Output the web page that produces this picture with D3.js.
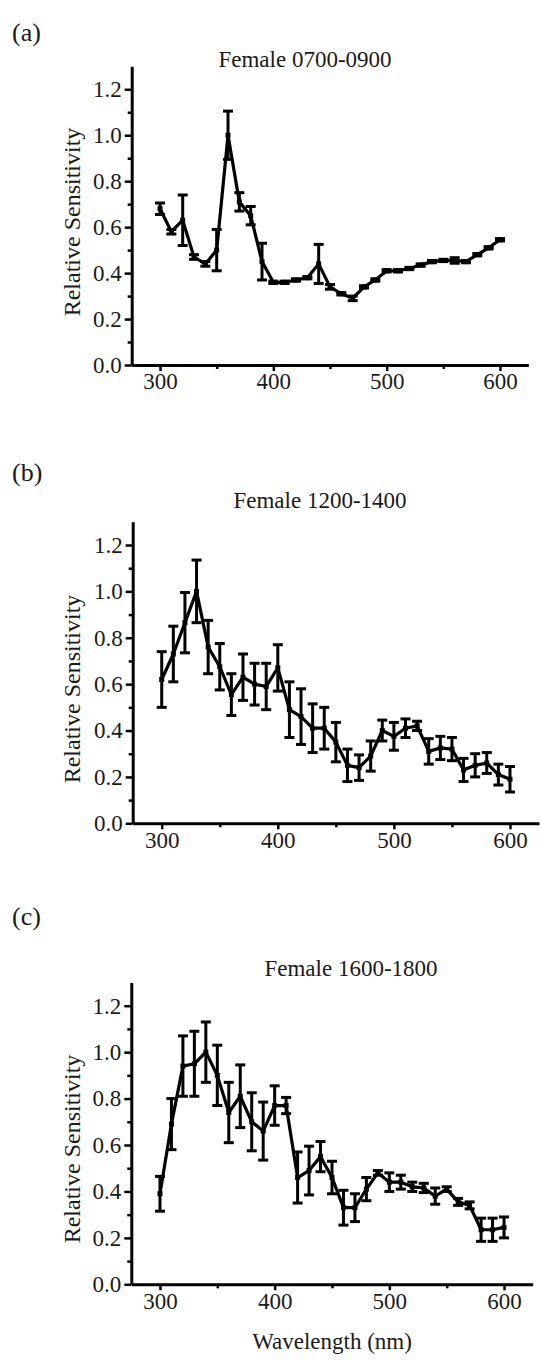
<!DOCTYPE html>
<html>
<head>
<meta charset="utf-8">
<script src="https://cdn.jsdelivr.net/npm/d3@7/dist/d3.min.js"></script>
<style>
    body { margin: 0; background: #fff; }
    svg text { font-family: "Liberation Serif", "Times New Roman", serif; fill: #1a1a1a; }
    .axis path, .axis line { stroke: #000; }
</style>
</head>
<body>
<svg id="chart" width="541" height="1363"></svg>
<script>
"use strict";

var wavelengths = [300, 310, 320, 330, 340, 350, 360, 370, 380, 390,
		   400, 410, 420, 430, 440, 450, 460, 470, 480, 490,
		   500, 510, 520, 530, 540, 550, 560, 570, 580, 590, 600],

    // (a) Female 0700-0900
    morningValues = [0.68, 0.58, 0.63, 0.47, 0.44, 0.50, 1.00, 0.71, 0.65, 0.45,
		     0.36, 0.36, 0.37, 0.38, 0.44, 0.34, 0.31, 0.29, 0.34, 0.37,
		     0.41, 0.41, 0.42, 0.435, 0.45, 0.455, 0.455, 0.45, 0.48, 0.51, 0.545],
    morningErrors = [0.025, 0.01, 0.11, 0.01, 0.01, 0.09, 0.105, 0.04, 0.04, 0.08,
		     0.005, 0.005, 0.005, 0.005, 0.085, 0.01, 0.005, 0.01, 0.005, 0.005,
		     0.005, 0.005, 0.005, 0.005, 0.005, 0.005, 0.012, 0.005, 0.005, 0.005, 0.005],

    // (b) Female 1200-1400
    noonValues = [0.62, 0.73, 0.865, 1.00, 0.76, 0.675, 0.555, 0.63, 0.60, 0.59,
		  0.67, 0.49, 0.46, 0.41, 0.41, 0.35, 0.25, 0.24, 0.29, 0.40,
		  0.375, 0.41, 0.42, 0.31, 0.325, 0.32, 0.23, 0.25, 0.26, 0.21, 0.19],
    noonErrors = [0.12, 0.12, 0.13, 0.135, 0.115, 0.10, 0.09, 0.10, 0.09, 0.10,
		  0.10, 0.12, 0.12, 0.105, 0.09, 0.085, 0.07, 0.055, 0.065, 0.045,
		  0.06, 0.04, 0.02, 0.055, 0.05, 0.05, 0.05, 0.05, 0.045, 0.045, 0.055],

    // (c) Female 1600-1800
    eveningValues = [0.39, 0.69, 0.94, 0.95, 1.00, 0.90, 0.74, 0.81, 0.70, 0.66,
		     0.77, 0.77, 0.46, 0.49, 0.55, 0.46, 0.33, 0.33, 0.41, 0.48,
		     0.44, 0.44, 0.42, 0.415, 0.38, 0.41, 0.355, 0.34, 0.235, 0.235, 0.245],
    eveningErrors = [0.075, 0.11, 0.13, 0.14, 0.13, 0.13, 0.13, 0.135, 0.125, 0.125,
		     0.085, 0.035, 0.11, 0.105, 0.065, 0.07, 0.075, 0.06, 0.05, 0.01,
		     0.04, 0.03, 0.02, 0.02, 0.035, 0.01, 0.015, 0.015, 0.05, 0.05, 0.045],

    xMajorTicks = [300, 400, 500, 600],
    xMinorTicks = [350, 450, 550],
    yMajorTicks = [0.0, 0.2, 0.4, 0.6, 0.8, 1.0, 1.2],
    yMinorTicks = [0.1, 0.3, 0.5, 0.7, 0.9, 1.1],

    xDomain = [275, 625],
    yDomain = [0, 1.3],

    capHalfWidth = 5,
    markerSize = 5,
    fontSize = 23;

/*
 */
var panels = [
    {
	letter: "(a)", title: "Female 0700-0900",
	values: morningValues, errors: morningErrors,
	left: 131.7, right: 528.3, top: 66.3, bottom: 365,
	letterY: 41, titleX: 305, titleY: 67, yLabelCentre: 222
    },
    {
	letter: "(b)", title: "Female 1200-1400",
	values: noonValues, errors: noonErrors,
	left: 132.7, right: 539, top: 521.8, bottom: 823.3,
	letterY: 481, titleX: 320, titleY: 508, yLabelCentre: 689
    },
    {
	letter: "(c)", title: "Female 1600-1800",
	values: eveningValues, errors: eveningErrors,
	left: 131.3, right: 532.7, top: 982.5, bottom: 1284.3,
	letterY: 925, titleX: 351, titleY: 976, yLabelCentre: 1149,
	xLabel: "Wavelength (nm)"
    }
];

var svg = d3.select("#chart");

var drawPanel = function(panel) {
    var g = svg.append("g"),
	x = d3.scaleLinear().domain(xDomain).range([panel.left, panel.right]),
	y = d3.scaleLinear().domain(yDomain).range([panel.bottom, panel.top]),
	points = wavelengths.map(function(w, i) {
	    return { w: w, v: panel.values[i], e: panel.errors[i] };
	});

    g.append("text")
	.attr("x", 12)
	.attr("y", panel.letterY)
	.attr("font-size", 26)
	.text(panel.letter);

    g.append("text")
	.attr("x", panel.titleX)
	.attr("y", panel.titleY)
	.attr("text-anchor", "middle")
	.attr("font-size", fontSize)
	.text(panel.title);

    // minor ticks first, the major axis draws the spine over them
    g.append("g")
	.classed("axis", true)
	.attr("transform", "translate(0," + panel.bottom + ")")
	.call(d3.axisBottom(x).tickValues(xMinorTicks).tickSize(4).tickSizeOuter(0).tickFormat(""))
	.call(function(a) { a.select(".domain").remove(); })
	.selectAll("line").attr("stroke-width", 2.5);

    g.append("g")
	.classed("axis", true)
	.attr("transform", "translate(" + panel.left + ",0)")
	.call(d3.axisLeft(y).tickValues(yMinorTicks).tickSize(4).tickSizeOuter(0).tickFormat(""))
	.call(function(a) { a.select(".domain").remove(); })
	.selectAll("line").attr("stroke-width", 2.5);

    var xAxis = g.append("g")
	    .classed("axis", true)
	    .attr("transform", "translate(0," + panel.bottom + ")")
	    .call(d3.axisBottom(x).tickValues(xMajorTicks).tickSize(6).tickPadding(2).tickSizeOuter(0));

    var yAxis = g.append("g")
	    .classed("axis", true)
	    .attr("transform", "translate(" + panel.left + ",0)")
	    .call(d3.axisLeft(y).tickValues(yMajorTicks).tickSize(7).tickPadding(3)
		  .tickSizeOuter(0).tickFormat(d3.format(".1f")));

    [xAxis, yAxis].forEach(function(a) {
	a.select(".domain").attr("stroke-width", 3);
	a.selectAll(".tick line").attr("stroke-width", 2.5);
	a.selectAll("text")
	    .attr("font-size", fontSize)
	    .attr("font-family", "Liberation Serif, Times New Roman, serif")
	    .attr("fill", "#1a1a1a");
    });

    g.append("text")
	.attr("transform", "translate(80," + panel.yLabelCentre + ") rotate(-90)")
	.attr("text-anchor", "middle")
	.attr("font-size", 24)
	.text("Relative Sensitivity");

    if (panel.xLabel) {
	g.append("text")
	    .attr("x", (panel.left + panel.right) / 2)
	    .attr("y", panel.bottom + 65)
	    .attr("text-anchor", "middle")
	    .attr("font-size", fontSize)
	    .text(panel.xLabel);
    }

    var bars = g.append("g")
	    .attr("stroke", "#000")
	    .attr("stroke-width", 3)
	    .selectAll("g")
	    .data(points)
	    .enter()
	    .append("g");

    bars.append("line")
	.attr("x1", function(d) { return x(d.w); })
	.attr("x2", function(d) { return x(d.w); })
	.attr("y1", function(d) { return y(d.v + d.e); })
	.attr("y2", function(d) { return y(d.v - d.e); });

    [1, -1].forEach(function(sign) {
	bars.append("line")
	    .attr("x1", function(d) { return x(d.w) - capHalfWidth; })
	    .attr("x2", function(d) { return x(d.w) + capHalfWidth; })
	    .attr("y1", function(d) { return y(d.v + sign * d.e); })
	    .attr("y2", function(d) { return y(d.v + sign * d.e); });
    });

    g.append("path")
	.datum(points)
	.attr("fill", "none")
	.attr("stroke", "#000")
	.attr("stroke-width", 3.2)
	.attr("stroke-linejoin", "round")
	.attr("d", d3.line()
	      .x(function(d) { return x(d.w); })
	      .y(function(d) { return y(d.v); }));

    g.append("g")
	.selectAll("rect")
	.data(points)
	.enter()
	.append("rect")
	.attr("x", function(d) { return x(d.w) - markerSize / 2; })
	.attr("y", function(d) { return y(d.v) - markerSize / 2; })
	.attr("width", markerSize)
	.attr("height", markerSize)
	.attr("fill", "#000");
};

panels.forEach(drawPanel);
</script>
</body>
</html>
